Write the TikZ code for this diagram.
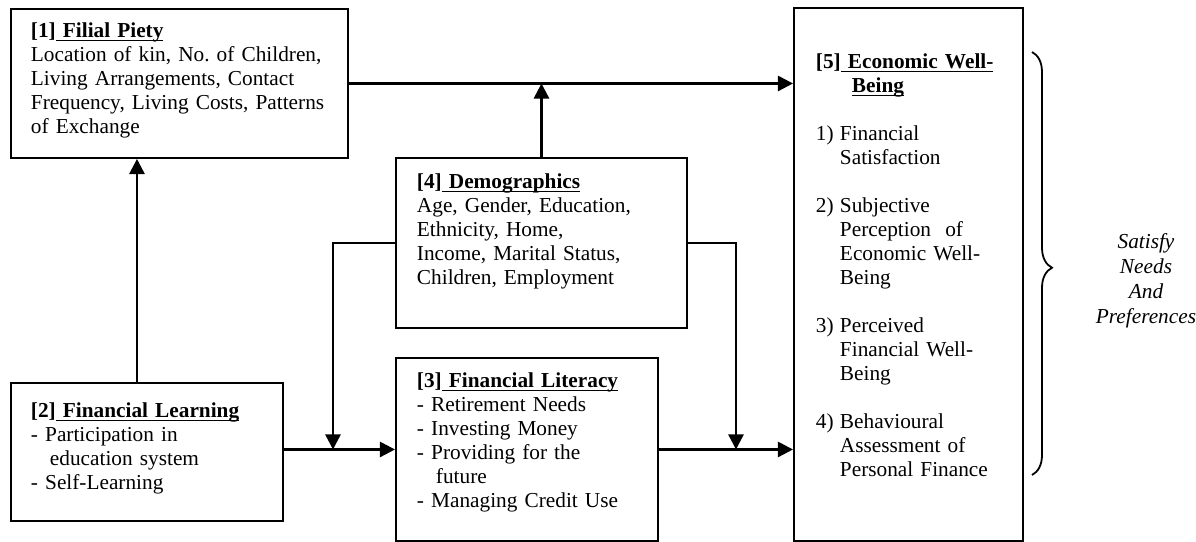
\documentclass[tikz,border=0pt]{standalone}
\usepackage{fontspec}
\setmainfont{Liberation Serif}
\usetikzlibrary{arrows.meta, decorations.pathreplacing}

\newlength\px
\setlength\px{0.5634pt}
\newcommand{\heading}[2]{\textbf{[#1]\underline{\smash{\ #2}}}}

\begin{document}
\frenchspacing
\begin{tikzpicture}[x=0.5634pt, y=-0.5634pt,
  box/.style={draw, line width=1.1pt, anchor=north west, align=left, inner ysep=0pt,
    font=\fontsize{12}{13.5}\selectfont\frenchspacing},
  arr/.style={line width=1.4pt, -{Triangle[length=8.5pt, width=8.5pt]}}]

\useasboundingbox (0,0) rectangle (1196,542);

\node [box, inner xsep=20\px, text width=297\px, text height=29\px, text depth=120\px] (piety) at (10,8) {
	\heading{1}{Filial Piety} \\
	Location of kin, No. of Children, \\
	Living Arrangements, Contact \\
	Frequency, Living Costs, Patterns \\
	of Exchange};

\node [box, inner xsep=21\px, text width=249\px, text height=31\px, text depth=139\px] (demog) at (395,157) {
	\heading{4}{Demographics} \\
	Age, Gender, Education, \\
	Ethnicity, Home, \\
	Income, Marital Status, \\
	Children, Employment};

\node [box, inner xsep=20\px, text width=232\px, text height=35\px, text depth=103\px] (learn) at (10,382) {
	\heading{2}{Financial Learning} \\
	- Participation in \\
	\hspace*{19\px}education system \\
	- Self-Learning};

\node [box, inner xsep=21\px, text width=220\px, text height=30\px, text depth=153\px] (literacy) at (395,357) {
	\heading{3}{Financial Literacy} \\
	- Retirement Needs \\
	- Investing Money \\
	- Providing for the \\
	\hspace*{19\px}future \\
	- Managing Credit Use};

\node [box, inner xsep=22\px, text width=185\px, text height=61\px, text depth=472\px] (wellbeing) at (793,7) {
	\heading{5}{Economic Well-} \\
	\hspace*{36\px}\textbf{\underline{\smash{Being}}} \\[13.5pt]
	\makebox[24\px][l]{1)}Financial \\
	\hspace*{24\px}Satisfaction \\[13.5pt]
	\makebox[24\px][l]{2)}Subjective \\
	\hspace*{24\px}Perception~ of \\
	\hspace*{24\px}Economic Well- \\
	\hspace*{24\px}Being \\[13.5pt]
	\makebox[24\px][l]{3)}Perceived \\
	\hspace*{24\px}Financial Well- \\
	\hspace*{24\px}Being \\[13.5pt]
	\makebox[24\px][l]{4)}Behavioural \\
	\hspace*{24\px}Assessment of \\
	\hspace*{24\px}Personal Finance};

\node [align=center, font=\fontsize{12}{14}\selectfont\itshape] (needs) at (1146,281) {
	Satisfy \\ Needs \\ And \\ Preferences};

% brace next to the outcome box
\coordinate (brtop) at (1032,52);
\coordinate (brbot) at (1032,475);
\draw [line width=1pt, decorate, decoration={brace, amplitude=20\px, aspect=0.51}] (brtop) -- (brbot);

% junctions on the lower line
\coordinate (jl) at (333,0 |- literacy.west);
\coordinate (jr) at (736,0 |- literacy.west);

\draw [arr] ([xshift=-10\px]learn.north) -- ([xshift=-10\px]learn.north |- piety.south);
\draw [arr] (piety.east) -- (piety.east -| wellbeing.west);
\draw [arr] (demog.north) -- (demog.north |- piety.east);
\draw [arr] (demog.west) -| (jl);
\draw [arr] (demog.east) -| (jr);
\draw [arr] (learn.east |- literacy.west) -- (literacy.west);
\draw [arr] (literacy.east) -- (literacy.east -| wellbeing.west);

\end{tikzpicture}
\end{document}
